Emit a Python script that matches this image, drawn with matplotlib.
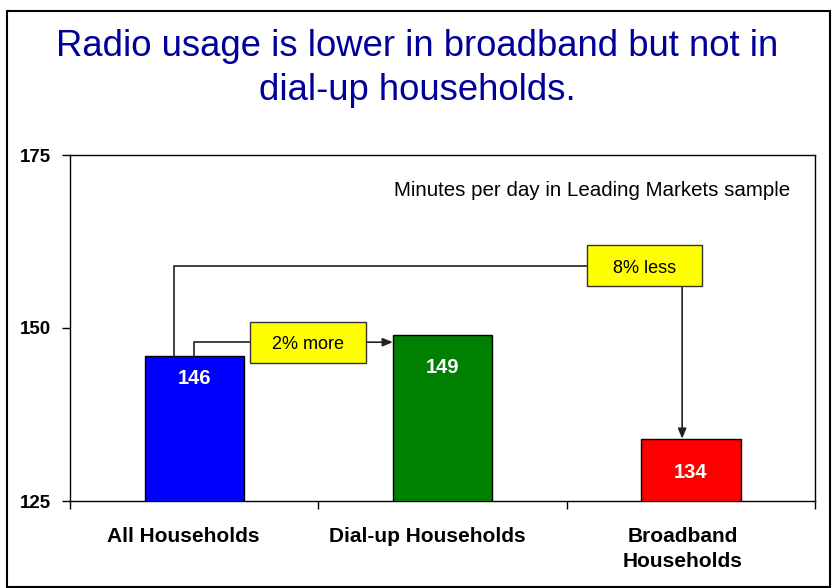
import numpy as np
import matplotlib
matplotlib.use("Agg")
import matplotlib.pyplot as plt
from matplotlib.patches import Rectangle
from matplotlib.transforms import offset_copy

plt.rcParams['font.family'] = ['Liberation Sans', 'DejaVu Sans']

# data
categories = ['All Households', 'Dial-up Households', 'Broadband\nHouseholds']
minutes = [146, 149, 134]
bar_colors = ['#0000ff', '#008000', '#ff0000']
label_drop = [23, 33, 34]  # px below the bar top for the white value labels
cat_shift = [-11, -15, -8]  # px horizontal nudge of the category labels
y_ticks = [125, 150, 175]

fig = plt.figure(figsize=(8.35, 5.88), dpi=100)
ax = fig.add_axes([70 / 835, 1 - 501 / 588, 745 / 835, 346 / 588])

x = np.arange(len(categories))
ax.bar(x, minutes, width=0.4, color=bar_colors, edgecolor='black', linewidth=1.0, zorder=3)

for xi, v, d in zip(x, minutes, label_drop):
    ax.annotate(str(v), (xi, v), xytext=(0, -d), textcoords='offset pixels',
                ha='center', va='center', color='white', fontsize=14.5, fontweight='bold', zorder=5)

ax.set_xlim(-0.5, 2.5)
ax.set_ylim(125, 175)
ax.set_yticks(y_ticks)
ax.set_yticklabels([str(t) for t in y_ticks], fontsize=13.5, fontweight='bold')
ax.tick_params(axis='y', direction='out', length=6, width=1, pad=8)
ax.set_xticks([-0.5, 0.5, 1.5, 2.5])
ax.set_xticklabels([])
ax.tick_params(axis='x', direction='out', length=6, width=1)
for i, c in enumerate(categories):
    tr = offset_copy(ax.get_xaxis_transform(), fig=fig, x=cat_shift[i], y=-5, units='dots')
    ax.text(x[i], -0.06, c, transform=tr,
            ha='center', va='top', fontsize=15, fontweight='bold', linespacing=1.42)
for s in ax.spines.values():
    s.set_linewidth(1.0)

ax.text(0.967, 0.897, 'Minutes per day in Leading Markets sample', transform=ax.transAxes,
        ha='right', va='center', fontsize=14.8)

lc = '#222222'
lw = 1.2

# "8% less" connector: All -> Broadband
big_y = 159.0
box8 = (1.814, big_y)
ax.plot([-0.08, -0.08, box8[0] - 0.23], [minutes[0], big_y, big_y], color=lc, lw=lw, zorder=4)
ax.annotate('', xy=(1.965, minutes[2]), xytext=(1.965, big_y - 2.96),
            arrowprops=dict(arrowstyle='-|>,head_length=0.6,head_width=0.25', color=lc, lw=lw,
                            shrinkA=0, shrinkB=0), zorder=4)
ax.add_patch(Rectangle((box8[0] - 0.2315, big_y - 2.96), 0.463, 5.92, facecolor='#ffff00',
                       edgecolor='#333333', lw=1.0, zorder=6))
ax.text(box8[0], big_y - 0.4, '8% less', ha='center', va='center', fontsize=13, zorder=7)

# "2% more" connector: All -> Dial-up
sm_y = 147.95
box2 = (0.458, sm_y)
ax.plot([0.0, 0.0, box2[0] - 0.233], [minutes[0], sm_y, sm_y], color=lc, lw=lw, zorder=4)
ax.annotate('', xy=(0.8, sm_y), xytext=(box2[0] + 0.233, sm_y),
            arrowprops=dict(arrowstyle='-|>,head_length=0.6,head_width=0.25', color=lc, lw=lw,
                            shrinkA=0, shrinkB=0), zorder=4)
ax.add_patch(Rectangle((box2[0] - 0.2335, sm_y - 2.96), 0.467, 5.92, facecolor='#ffff00',
                       edgecolor='#333333', lw=1.0, zorder=6))
ax.text(box2[0], sm_y - 0.4, '2% more', ha='center', va='center', fontsize=13, zorder=7)

fig.text(0.5, 1 - 47 / 588, 'Radio usage is lower in broadband but not in', ha='center', va='center',
         fontsize=26.3, color='#000099')
fig.text(0.5, 1 - 90 / 588, 'dial-up households.', ha='center', va='center',
         fontsize=26.3, color='#000099')

fig.add_artist(Rectangle((7 / 835, 1 / 588), 823 / 835, 576 / 588, transform=fig.transFigure,
                         fill=False, edgecolor='black', lw=1.5))

fig.savefig('out.png', dpi=100)
